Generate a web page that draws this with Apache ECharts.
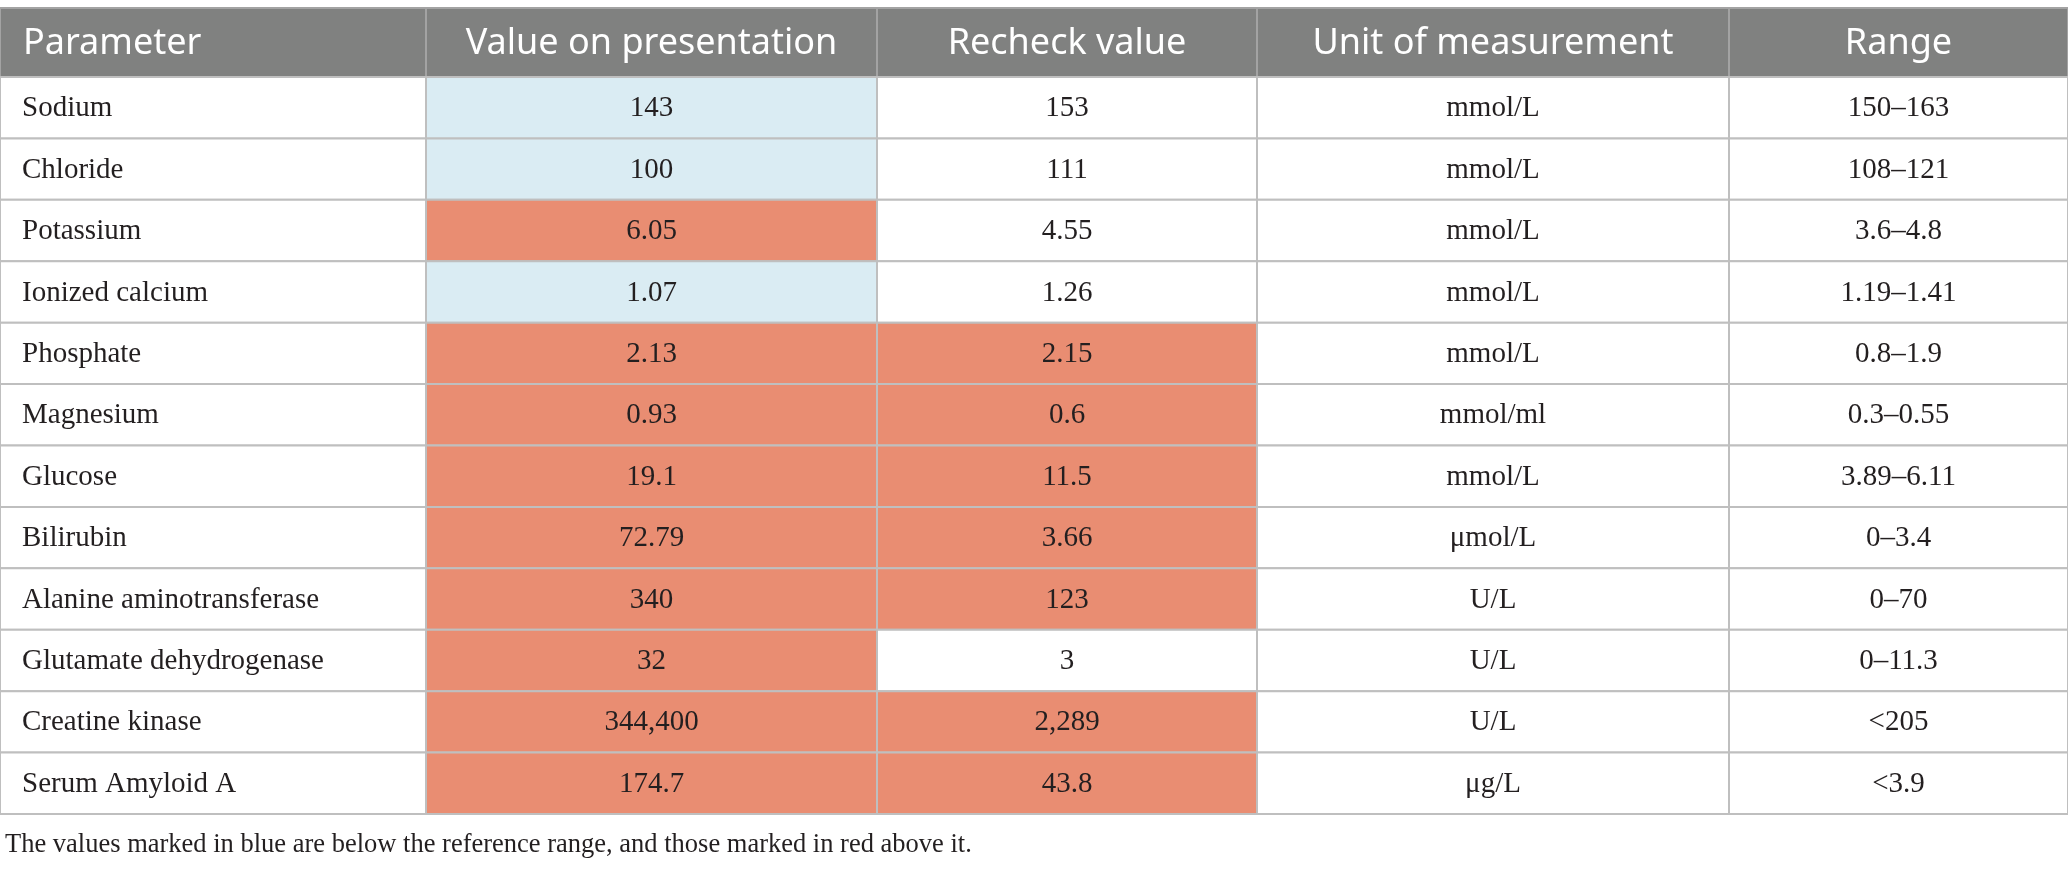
<!DOCTYPE html>
<html lang="en">
<head>
    <meta charset="UTF-8">
    <title>Blood values</title>
    <script src="https://cdn.jsdelivr.net/npm/echarts@6/dist/echarts.min.js"></script>
    <style>
        * {
            margin: 0;
            padding: 0;
        }
        html,body{
            height: 100%;
            background: #fff;
        }
    </style>
</head>
<body>
<div id="main" style="width: 2068px;height: 871px"></div>
<script>
    // table content
    var headers = ['Parameter', 'Value on presentation', 'Recheck value', 'Unit of measurement', 'Range'];
    var params = ['Sodium', 'Chloride', 'Potassium', 'Ionized calcium', 'Phosphate', 'Magnesium', 'Glucose',
        'Bilirubin', 'Alanine aminotransferase', 'Glutamate dehydrogenase', 'Creatine kinase', 'Serum Amyloid A'];
    var presentation = ['143', '100', '6.05', '1.07', '2.13', '0.93', '19.1', '72.79', '340', '32', '344,400', '174.7'];
    var recheck = ['153', '111', '4.55', '1.26', '2.15', '0.6', '11.5', '3.66', '123', '3', '2,289', '43.8'];
    var units = ['mmol/L', 'mmol/L', 'mmol/L', 'mmol/L', 'mmol/L', 'mmol/ml', 'mmol/L', 'μmol/L', 'U/L', 'U/L', 'U/L', 'μg/L'];
    var ranges = ['150–163', '108–121', '3.6–4.8', '1.19–1.41', '0.8–1.9', '0.3–0.55', '3.89–6.11', '0–3.4', '0–70', '0–11.3', '<205', '<3.9'];
    // low = below reference range, high = above it
    var presentationFlag = ['low', 'low', 'high', 'low', 'high', 'high', 'high', 'high', 'high', 'high', 'high', 'high'];
    var recheckFlag = ['', '', '', '', 'high', 'high', 'high', 'high', 'high', '', 'high', 'high'];
    var note = 'The values marked in blue are below the reference range, and those marked in red above it.';

    // layout (column edges in px, header height in row units)
    var colEdges = [0, 426, 877, 1257, 1729, 2068];
    var headerH = 1.124;
    var fills = {low: '#daecf3', high: '#e98d72', '': '#ffffff'};

    var cells = [];
    headers.forEach(function (h, j) {
        cells.push([j, -1, h, 'head']);
    });
    params.forEach(function (p, i) {
        cells.push([0, i, p, '']);
        cells.push([1, i, presentation[i], presentationFlag[i]]);
        cells.push([2, i, recheck[i], recheckFlag[i]]);
        cells.push([3, i, units[i], '']);
        cells.push([4, i, ranges[i], '']);
    });

    function renderCell(params, api) {
        var col = api.value(0);
        var row = api.value(1);
        var item = cells[params.dataIndex];
        var isHead = row < 0;
        var y0 = isHead ? -headerH : row;
        var y1 = isHead ? 0 : row + 1;
        var p0 = api.coord([colEdges[col], y0]);
        var p1 = api.coord([colEdges[col + 1], y1]);
        var w = p1[0] - p0[0];
        var h = p1[1] - p0[1];
        var left = col === 0;
        return {
            type: 'group',
            children: [{
                type: 'rect',
                shape: {x: p0[0], y: p0[1], width: w, height: h},
                style: {
                    fill: isHead ? '#808180' : fills[item[3]],
                    stroke: isHead ? '#a3a3a3' : '#bfbfbf',
                    lineWidth: 2
                }
            }, {
                type: 'text',
                x: left ? p0[0] + (isHead ? 23 : 22) : p0[0] + w / 2,
                y: p0[1] + h / 2 + 1,
                style: {
                    text: item[2],
                    fill: isHead ? '#ffffff' : '#231f20',
                    font: isHead ? '36px "Noto Sans"' : '29px "Liberation Serif"',
                    align: left ? 'left' : 'center',
                    verticalAlign: 'middle'
                }
            }]
        };
    }

    var myChart = echarts.init(document.getElementById('main'));
    var option = {
        animation: false,
        title: {
            text: note,
            left: 0,
            top: 827,
            textStyle: {
                fontFamily: 'Liberation Serif',
                fontSize: 26.5,
                fontWeight: 'normal',
                color: '#231f20'
            }
        },
        grid: {left: 0, right: 0, top: 8, bottom: 57},
        xAxis: {type: 'value', min: 0, max: colEdges[colEdges.length - 1], show: false},
        yAxis: {type: 'value', inverse: true, min: -headerH, max: params.length, show: false},
        series: [{
            type: 'custom',
            coordinateSystem: 'cartesian2d',
            clip: false,
            renderItem: renderCell,
            encode: {x: 0, y: 1},
            data: cells
        }]
    };
    myChart.setOption(option);
</script>
</body>
</html>
